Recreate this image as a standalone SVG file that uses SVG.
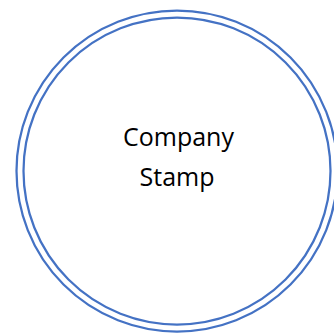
<svg xmlns="http://www.w3.org/2000/svg" width="334" height="333" viewBox="0 0 334 333">
<style>
.ring{fill:none;stroke:#4472C4;stroke-width:2.25}
.lbl{font-family:"Open Sans","Noto Sans",sans-serif;font-size:25px;fill:#000;text-anchor:middle}
</style>
<rect width="334" height="333" fill="#fff"/>
<g id="stamp">
<circle class="ring" cx="177" cy="171" r="160.5"/>
<circle class="ring" cx="177" cy="171" r="153.5"/>
<text class="lbl" x="178.5" y="145.5">Company</text>
<text class="lbl" x="177" y="185.5">Stamp</text>
</g>
</svg>
